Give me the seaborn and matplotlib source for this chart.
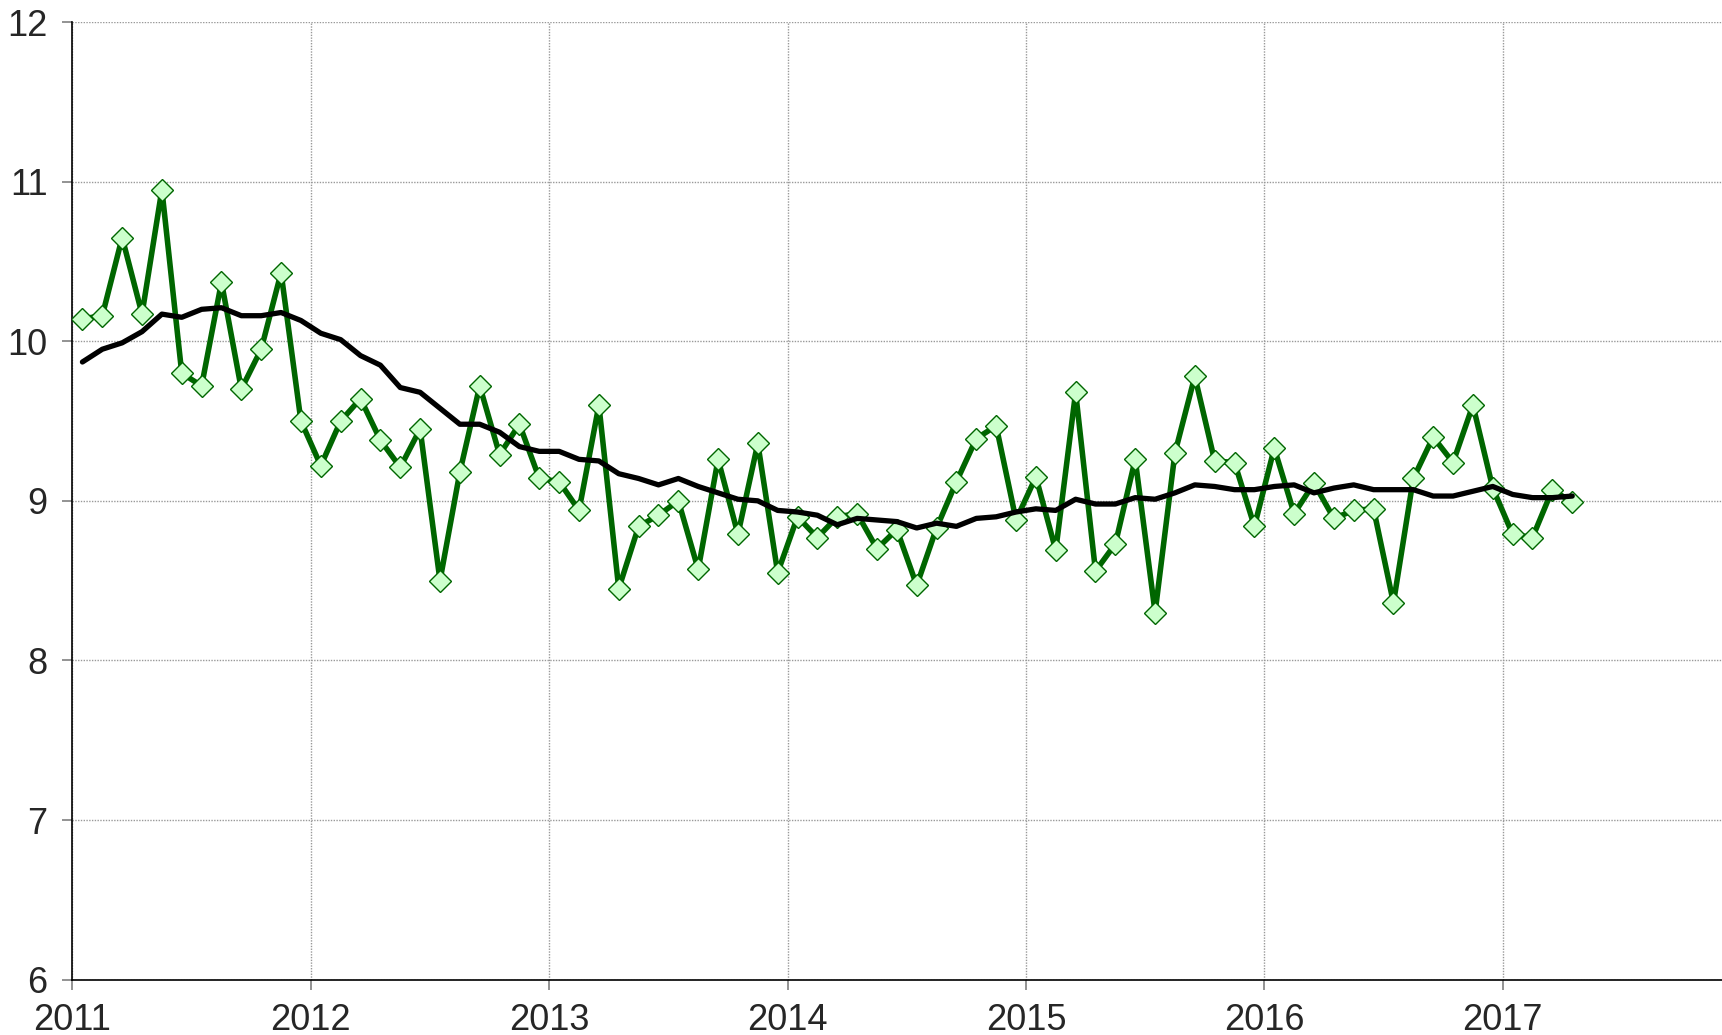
import numpy as np
import pandas as pd
import matplotlib
matplotlib.use("Agg")
import matplotlib.pyplot as plt
import seaborn as sns

# monthly values, Jan 2011 - Apr 2017
months = pd.period_range("2011-01", "2017-04", freq="M")

monthly = [
    10.14, 10.16, 10.65, 10.17, 10.95, 9.80, 9.72, 10.37, 9.70, 9.95, 10.43, 9.50,
    9.22, 9.50, 9.64, 9.38, 9.21, 9.45, 8.50, 9.18, 9.72, 9.29, 9.48, 9.14,
    9.12, 8.94, 9.60, 8.45, 8.84, 8.91, 9.00, 8.57, 9.26, 8.79, 9.36, 8.55,
    8.90, 8.77, 8.90, 8.92, 8.70, 8.82, 8.47, 8.83, 9.12, 9.39, 9.47, 8.88,
    9.15, 8.69, 9.68, 8.56, 8.73, 9.26, 8.30, 9.30, 9.78, 9.25, 9.24, 8.84,
    9.33, 8.92, 9.11, 8.89, 8.94, 8.95, 8.36, 9.14, 9.40, 9.24, 9.60, 9.08,
    8.79, 8.77, 9.07, 8.99,
]

# moving average (black line)
moving_avg = [
    9.87, 9.95, 9.99, 10.06, 10.17, 10.15, 10.20, 10.21, 10.16, 10.16, 10.18, 10.13,
    10.05, 10.01, 9.91, 9.85, 9.71, 9.68, 9.58, 9.48, 9.48, 9.43, 9.34, 9.31,
    9.31, 9.26, 9.25, 9.17, 9.14, 9.10, 9.14, 9.09, 9.05, 9.01, 9.00, 8.94,
    8.93, 8.91, 8.85, 8.89, 8.88, 8.87, 8.83, 8.86, 8.84, 8.89, 8.90, 8.93,
    8.95, 8.94, 9.01, 8.98, 8.98, 9.02, 9.01, 9.05, 9.10, 9.09, 9.07, 9.07,
    9.09, 9.10, 9.05, 9.08, 9.10, 9.07, 9.07, 9.07, 9.03, 9.03, 9.06, 9.09,
    9.04, 9.02, 9.02, 9.03,
]

year_ticks = [2011, 2012, 2013, 2014, 2015, 2016, 2017]
y_ticks = [6, 7, 8, 9, 10, 11, 12]

# mid-month position on a decimal-year axis
df = pd.DataFrame({
    "t": months.year + (months.month - 0.5) / 12,
    "monthly": monthly,
    "avg": moving_avg,
})

sns.set_style("white")
plt.rcParams["font.family"] = ["Liberation Sans", "DejaVu Sans"]

fig = plt.figure(figsize=(17.22, 10.35), dpi=100)
ax = fig.add_axes([0.0421, 0.0535, 0.9579, 0.9252])

sns.lineplot(data=df, x="t", y="monthly", ax=ax, color="#006600", lw=4.0,
             marker="D", markersize=11.5, markerfacecolor="#ccffcc",
             markeredgecolor="#006600", markeredgewidth=1.0, zorder=3)
sns.lineplot(data=df, x="t", y="avg", ax=ax, color="black", lw=3.8, zorder=4)

ax.set_xlim(2011, 2017.92)
ax.set_ylim(6, 12)
ax.set_xticks(year_ticks)
ax.set_yticks(y_ticks)
ax.set_xlabel("")
ax.set_ylabel("")

ax.grid(True, color="#999999", linestyle=(0, (1, 1)), linewidth=1.0)
ax.set_axisbelow(True)

for s in ["top", "right"]:
    ax.spines[s].set_visible(False)
for s in ["left", "bottom"]:
    ax.spines[s].set_color("black")
    ax.spines[s].set_linewidth(1.2)

ax.tick_params(axis="y", direction="out", length=7, width=1.2, color="#808080",
               labelsize=26, pad=11, left=True)
ax.tick_params(axis="x", direction="out", length=7, width=1.2, color="#808080",
               labelsize=26, pad=10, bottom=True)

fig.savefig("out.png", dpi=100)
